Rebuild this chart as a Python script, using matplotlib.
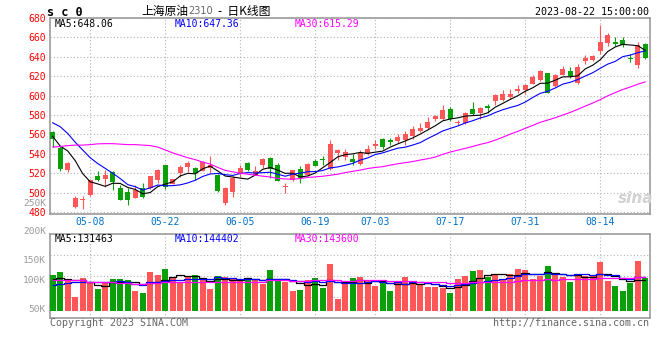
import matplotlib
matplotlib.use('Agg')
import matplotlib.pyplot as plt
import numpy as np
import pandas as pd

plt.rcParams['font.family'] = ['DejaVu Sans Mono', 'Noto Sans CJK SC']

# daily K-line of sc2310, 04-26 .. 08-22
opens = [562.4, 546.4, 523.0, 485.5, 492.0, 497.5, 517.0, 514.0, 521.5, 504.5,
         500.5, 494.7, 504.6, 504.6, 513.0, 528.0, 509.0, 520.3, 526.5, 525.5,
         522.3, 525.0, 518.6, 489.6, 500.8, 520.3, 530.6, 518.7, 529.0, 536.0,
         528.0, 505.5, 512.8, 524.8, 518.0, 533.0, 534.2, 524.8, 541.0, 536.7,
         534.7, 529.2, 540.0, 547.7, 555.0, 553.8, 553.0, 554.0, 558.3, 564.0,
         566.5, 575.4, 576.0, 586.4, 571.5, 571.3, 586.7, 582.6, 589.7, 594.2,
         596.0, 598.3, 604.8, 606.2, 612.3, 616.4, 623.6, 610.0, 621.5, 625.0,
         613.3, 635.2, 636.2, 646.5, 654.4, 655.7, 657.4, 639.0, 632.0, 653.3]
highs = [563.5, 548.0, 532.0, 497.0, 497.0, 514.0, 522.0, 523.0, 522.0, 507.5,
         505.0, 507.5, 510.0, 517.5, 524.0, 528.5, 514.5, 528.0, 532.5, 526.0,
         533.0, 538.0, 519.0, 505.5, 517.0, 528.0, 532.0, 527.0, 536.0, 536.5,
         531.0, 510.0, 523.5, 527.0, 530.5, 535.0, 538.0, 554.0, 545.5, 545.0,
         540.0, 543.6, 549.0, 554.0, 556.0, 556.6, 560.0, 564.0, 569.0, 571.6,
         577.7, 580.2, 590.8, 588.0, 574.7, 583.3, 593.5, 588.5, 591.8, 602.0,
         605.4, 606.5, 610.6, 612.3, 621.6, 626.5, 623.8, 622.6, 631.0, 629.4,
         632.8, 642.0, 642.0, 672.8, 664.6, 660.2, 660.2, 643.0, 655.0, 654.4]
lows = [547.0, 522.0, 521.0, 484.5, 483.5, 497.0, 512.5, 506.0, 503.0, 492.0,
        487.5, 494.5, 494.5, 504.0, 509.6, 504.0, 508.5, 516.0, 521.0, 513.0,
        522.0, 520.0, 500.5, 487.5, 496.0, 516.0, 522.0, 518.0, 525.0, 515.0,
        511.5, 500.0, 512.5, 510.0, 517.0, 527.0, 529.0, 523.5, 534.0, 534.0,
        528.0, 528.3, 538.5, 545.0, 545.3, 548.7, 551.0, 548.7, 555.6, 562.8,
        565.8, 573.6, 574.4, 573.6, 569.5, 570.3, 579.8, 575.6, 582.6, 590.0,
        594.2, 597.0, 603.0, 602.0, 612.0, 615.0, 602.5, 609.0, 620.8, 618.2,
        612.3, 632.8, 635.2, 643.0, 651.0, 651.0, 650.0, 635.0, 628.7, 638.0]
closes = [555.0, 524.0, 530.5, 495.0, 493.5, 513.0, 513.0, 518.0, 511.0, 492.5,
          492.5, 502.5, 496.0, 517.0, 523.0, 505.5, 514.0, 526.5, 530.5, 520.3,
          531.6, 528.0, 501.5, 504.3, 515.2, 525.8, 523.0, 522.0, 534.4, 524.5,
          512.0, 506.5, 523.0, 514.6, 530.0, 527.2, 533.8, 549.7, 543.6, 541.5,
          531.6, 540.8, 545.0, 549.7, 547.0, 552.0, 557.3, 560.0, 565.8, 566.5,
          573.3, 578.8, 585.6, 575.4, 572.3, 582.3, 581.5, 587.7, 587.7, 601.0,
          602.0, 602.0, 606.5, 610.6, 619.2, 625.0, 603.0, 621.5, 627.7, 620.2,
          629.4, 638.7, 640.7, 655.7, 662.6, 653.0, 652.3, 637.3, 652.3, 638.7]
# volume in thousand lots
volumes = [152.6, 165.4, 131.2, 58.5, 139.7, 122.6, 92.7, 123.9, 135.5, 135.5,
           131.2, 84.2, 75.6, 165.4, 152.6, 178.2, 144.0, 123.9, 144.0, 152.6,
           131.2, 92.7, 148.3, 145.3, 139.7, 131.2, 135.5, 129.9, 115.4, 173.9,
           126.9, 123.9, 85.5, 89.7, 131.2, 139.7, 97.0, 199.6, 50.0, 122.6,
           139.7, 144.0, 126.9, 105.6, 122.6, 84.2, 122.6, 144.0, 115.4, 108.5,
           101.3, 101.3, 97.0, 76.9, 135.5, 148.3, 169.7, 173.9, 145.3, 152.6,
           135.5, 156.8, 178.2, 173.9, 135.5, 148.3, 191.0, 156.8, 144.0, 122.6,
           152.6, 148.3, 148.3, 208.1, 126.9, 105.6, 84.2, 118.4, 212.4, 139.7]

# moving averages before the window is full (history not on the chart)
ma5_head = [558, 548, 543, 533]
ma10_head = [572, 568, 561, 552, 544, 536, 530, 525, 520]
ma30_head = [547, 547.5, 548.5, 549, 549, 549.5, 550.3, 550.5, 550.5, 550,
             549.5, 549.5, 549, 548.5, 547, 544, 541, 538.5, 536, 534,
             531.5, 529.5, 526, 523, 521.5, 520, 519, 518, 517]
vma5_head = [136, 138, 137, 133]
vma10_head = [110, 115, 119, 121, 122, 122, 121, 122, 122]
vma30_head = [130, 130, 130, 130, 130, 123, 122, 121, 121, 120,
              120, 115, 115, 119, 120, 121, 122, 122, 123, 123,
              123, 123, 124, 124, 124, 124, 124, 124, 124]

date_index = [5, 15, 25, 35, 43, 53, 63, 73]
date_labels = ['05-08', '05-22', '06-05', '06-19', '07-03', '07-17', '07-31', '08-14']
price_ticks = list(range(480, 681, 20))
vol_grid = [57, 147, 237]
vol_labels = ['250K', '200K', '150K', '100K', '50K']
price_ma_text = ['MA5:648.06', 'MA10:647.36', 'MA30:615.29']
vol_ma_text = ['MA5:131463', 'MA10:144402', 'MA30:143600']

RED = '#ff5757'
GREEN = '#0aa00a'
MA_COLORS = ['black', '#0000ff', '#ff00ff']
GRID = '#b4b4b4'
FRAME = '#9c9c9c'

W, H = 660, 360


def fx(x):
    return x / W


def fy(y):
    return 1 - y / H


def moving_avg(values, n, head):
    ma = pd.Series(values).rolling(n).mean().to_numpy()
    ma[:n - 1] = head
    return ma


x = np.arange(len(closes))
o = np.array(opens)
c = np.array(closes)
up = c >= o
colors = np.where(up, RED, GREEN)

fig = plt.figure(figsize=(6.6, 3.6), dpi=100)
ax = fig.add_axes([fx(50), fy(214), 600 / W, 196 / H])
axv = fig.add_axes([fx(50), fy(318.3), 600 / W, 84 / H])

# candles
ax.vlines(x, lows, highs, colors=colors, linewidth=0.8, zorder=3)
body = np.maximum(np.abs(c - o), 0.9)
ax.bar(x, body, bottom=np.minimum(o, c), width=0.68, color=colors, zorder=4)

for n, head, col in zip([5, 10, 30], [ma5_head, ma10_head, ma30_head], MA_COLORS):
    ax.plot(x, moving_avg(closes, n, head), color=col, linewidth=0.8, zorder=5)

# volume
axv.bar(x, volumes, width=0.8, color=colors, zorder=3)
for n, head, col in zip([5, 10, 30], [vma5_head, vma10_head, vma30_head], MA_COLORS):
    axv.plot(x, moving_avg(volumes, n, head), color=col, linewidth=0.9,
             drawstyle='steps-mid', zorder=5)

for a in (ax, axv):
    a.set_xlim(-0.36, len(closes) - 0.36)
    a.set_xticks(date_index)
    a.grid(True, color=GRID, linestyle=(0, (1, 2)), linewidth=0.8)
    a.set_axisbelow(True)
    a.tick_params(length=0)
    for s in a.spines.values():
        s.set_color(FRAME)
        s.set_linewidth(1.2)

ax.set_ylim(478, 680)
ax.set_yticks(price_ticks)
ax.set_xticklabels(date_labels)
ax.tick_params(axis='x', pad=2, labelsize=7, labelcolor='#0070c8')
ax.tick_params(axis='y', pad=3, labelsize=7, labelcolor='#ff0000')

axv.set_ylim(-32.5, 326.5)
axv.set_yticks(vol_grid)
axv.set_xticklabels([])
axv.set_yticklabels([])

vol_label_y = [203.5, 231, 260.7, 280.7, 310]
for lab, yy in zip(vol_labels, vol_label_y):
    fig.text(fx(46), fy(yy), lab, ha='right', va='center', fontsize=6.8, color='#9a9a9a')

for txt, xx, col in zip(price_ma_text, [55, 175, 295], MA_COLORS):
    fig.text(fx(xx), fy(23.7), txt, ha='left', va='center', fontsize=7, color=col)
for txt, xx, col in zip(vol_ma_text, [55, 175, 295], MA_COLORS):
    fig.text(fx(xx), fy(238.5), txt, ha='left', va='center', fontsize=7, color=col)

# header
fig.text(fx(47), fy(12), 's c 0', ha='left', va='center', fontsize=8.5, fontweight='bold')
cjk = ['Noto Sans CJK SC', 'DejaVu Sans']
fig.text(fx(188), fy(11), '上海原油', ha='right', va='center', fontsize=8.5, family=cjk)
fig.text(fx(188), fy(11.5), '2310', ha='left', va='center', fontsize=7, color='#666666',
         family='DejaVu Sans')
fig.text(fx(218), fy(11), '-  日K线图', ha='left', va='center', fontsize=8.5, family=cjk)
fig.text(fx(649), fy(12), '2023-08-22 15:00:00', ha='right', va='center', fontsize=7.2)

# footer
fig.text(fx(50), fy(323.5), 'Copyright 2023 SINA.COM', ha='left', va='center',
         fontsize=7.2, color='#666666')
fig.text(fx(649), fy(323.5), 'http://finance.sina.com.cn', ha='right', va='center',
         fontsize=7.2, color='#666666')

# watermark
fig.text(fx(636), fy(198), 'sina', ha='center', va='center', fontsize=11,
         fontstyle='italic', fontweight='bold', color='#d2d2d2', family='DejaVu Sans')

fig.savefig('out.png', dpi=100)
